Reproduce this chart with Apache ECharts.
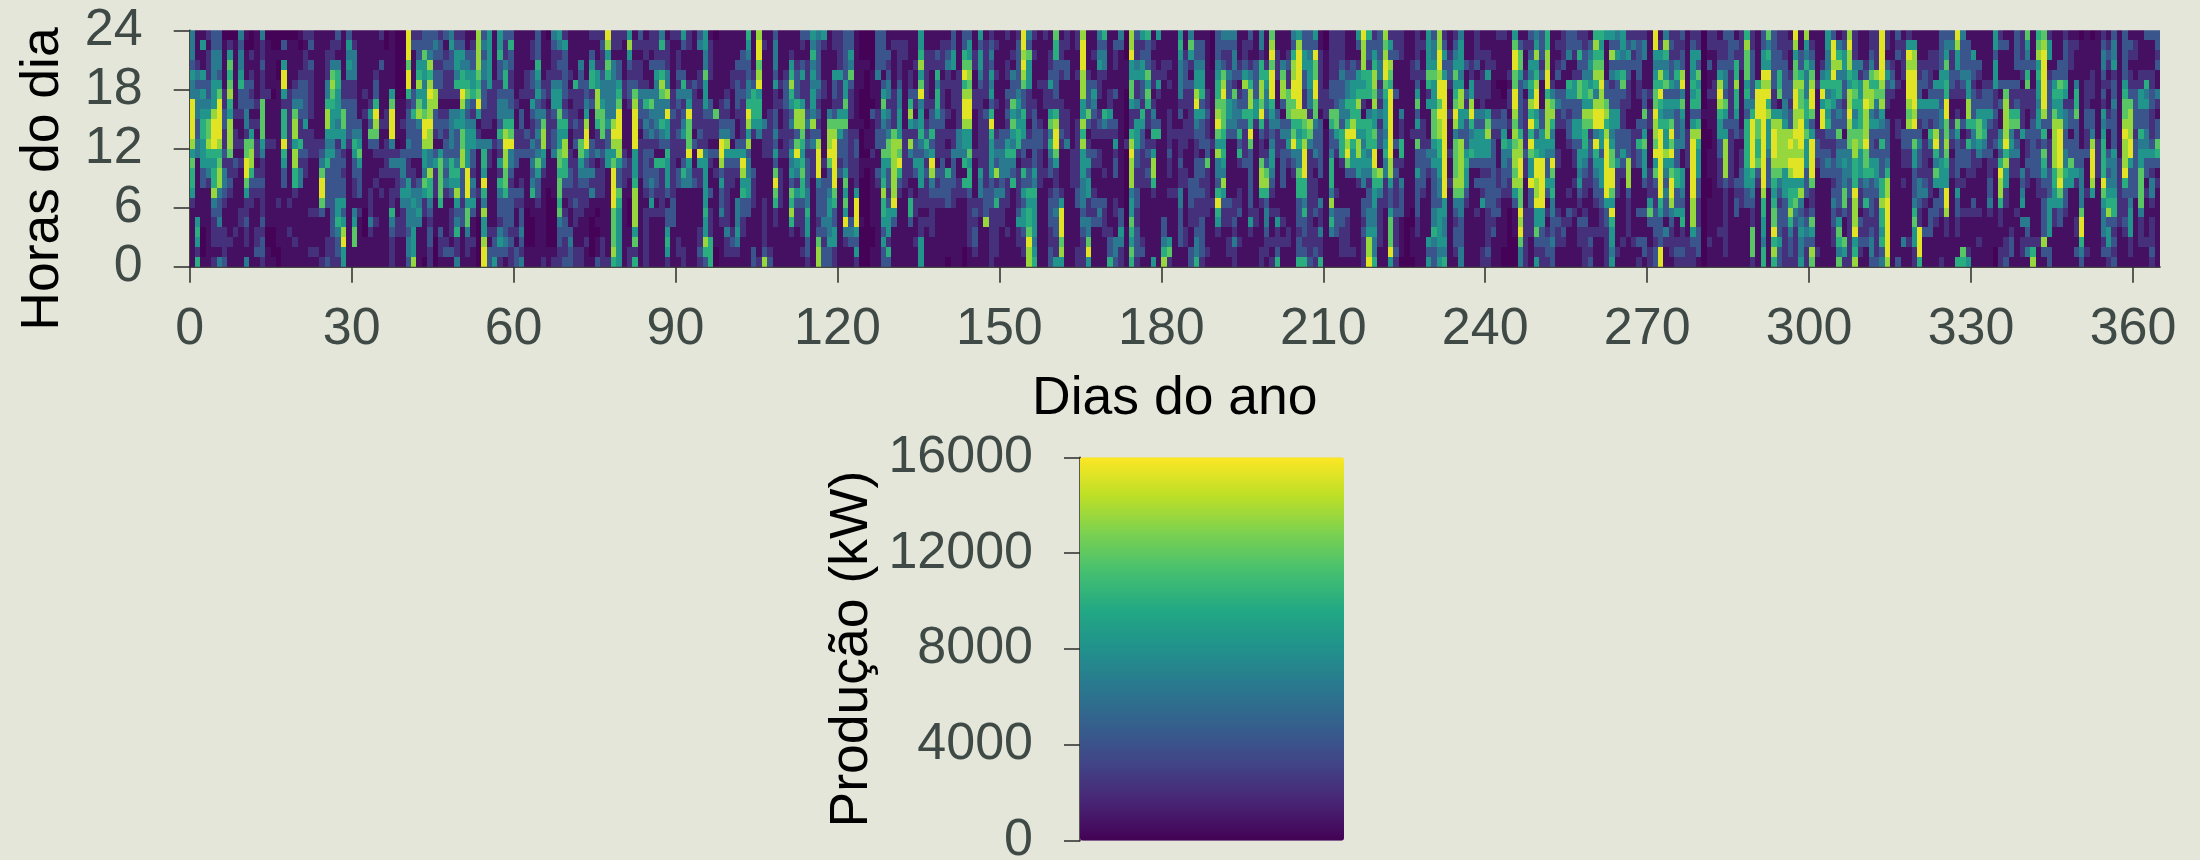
<!DOCTYPE html>
<html>
<head>
<meta charset="utf-8">
<style>html,body{margin:0;padding:0;background:#e4e6da}#c{width:2200px;height:860px}</style>
<script src="https://cdn.jsdelivr.net/npm/echarts@6/dist/echarts.min.js"></script>
</head>
<body>
<div id="c"></div>
<script>
// Values. Each string is one day, read from hour 23 (top) to hour 0 (bottom),
// as a colour level 0-9; levelValues gives the kW each level stands for.
const levelValues = [100, 700, 2200, 4200, 6500, 8200, 10000, 11800, 13500, 15300];
const xTicks = [0,30,60,90,120,150,180,210,240,270,300,330,360];
const yTicks = [0,6,12,18,24];
const barTicks = [0,4000,8000,12000,16000];
const viridis = ['#440154','#482475','#414487','#355f8d','#2a788e','#21918c','#22a884','#44bf70','#7ad151','#bddf26','#fde725'];

const days000 = ["444354499998576652111111","111243444334411111156526","151153545665553311110001","212223345778654211111111","334445558999656684322212","334435799998678843342214","011111223322324432112223","025767865888722321111211","011111112122132111112111","434456332112121111221111","101113334427799752232214","002123231257886322111111","111111121212212321112231","422322277775422322232332","011111211112111111110011","001111011112111111110001","001001111111111112111100","031599526669653311111111","011111222222111112112111","011112347885886621111211","101123343226324411111111","212223333522322111111111","231322222122211111211121","111111111112211111211121","111111111112347997311112","112224468854563333111223","122478765554533333333222","321466555452333335564332","111112237755232335358955","354542233332111111111111","124442233346533221457711","111111111345753331211111","111111212111111111000111","111111125373111122242111","111123369873211211121111","211311111211212121111111"];
const days036 = ["001111112212222111111111","111111579994242122643222","000000011110242221122111","000000011211344354222111","999799623334322554443443","231111336333312245445558","233568578433311344541111","337554557998554752211110","334868988988448664323322","343233883321352221111000","233233212331577776113221","312322212323343421111231","453322214444366531222131","235546214533346585346224","235466985577883332331111","113456743455559995774221","123355632455332435311211","888876795124111121100000","343443332214665964855899","555555222214221111112133","111112222112111111112335","556332344363252643324532","322466344689887763333431","363322334679443233332322","111111121122331132112133","111111213322311232334324","111122211132311111000011","122133253224343461100011","333654534343475332111111","111112324788542111111112","011122212222111100000011","432224553233411110000012","542324557655776776743322","253333323658866321233223","111121212211223322113433","111116222323122223221122","111433221227754322211122"];
const days073 = ["111113345899534322111211","213566231113324241100001","211255887622412221010113","232234457772322221111222","985764444533551111111112","221444444898579999777786","221335679998853376555555","211112211111232211111111","585323321111122110001122","121223789999555688885726","321222433212222111111111","122112463432333321222222","221311474342323435211111","222354444432163321211111","462368744643162222211111","122244849553655531335652","211111223222222223331111","212232432232213311111221","531136423452236411111122","221112459777954411111111","111113222213112311111111","341122122232952211112232","554475553222455555655863","122221133221321131222666","011111117221312111111100","111111122349983533421111","111111232348532222224221","111122111331532211112321","111323332113532114445421","113322322223598563322111","654334469858344553311111","111123666521113222111133","899789566541111111111112","121111111422211112222238","111111112222211111111123","344435223343537976221111","111112121121212222111111"];
const days110 = ["111123332222211111111111","112568653423545376862111","111233368837954253221111","321352258876567663222121","311222223423233344655332","546454554834222111111111","433334323238999433323788","521112211111121333343233","111111114788973345544533","221153323789999976335522","222252225753323111111111","333335575733335757594211","335473222122222111134311","111111111123322259995352","000111000100011000010000","000100000011010000000000","000011103111211111110011","333341112233113211111111","333313575433755686653533","113234424347753323555263","121111222278888889531111","122223445558796321111111","122111111122222211111111","111122368528422126631111","111211321423353112211211","556857945564355522122555","112222221236423222121111","112211123363598432222111","113264665322213232111111","122212223322233332111111","123422112121216333111110","335512221122433322111111","111122222244411221111111","336796899855461621111100","355787899855756632222211","112211221111211112323321","535543222222225442211111"];
const days147 = ["122222213222222233381111","234354536965555333222222","121121121123438246222221","111111111133444342221111","211221323235644222112111","112143375754643611111111","233333454566212222352211","998987336553326353553221","437555222123123365667988","212111123333335465555456","111112111233222211111111","211112221122112111111111","112235225746433123332233","766333326899752233433225","122321122232111125999785","221331112224111111111111","111111111111222211111111","221121111222222233111122","899988855868555444343222","111123337312353552244795","112113543221321123231111","434522212321221113431111","634421116421112113222111","111111225321111111112336","132211311325233112211443","431111111111111111335422","000111000002000000001111","889557752268988845576576","322452242555332233223332","523553326533222211111231","633375762212323211111111","121222124362588621111115","511125211361111111111111","111221111111111111133468","111212112222322121111572","111111111121111121111111","565444423122232244333311"];
const days184 = ["112333221222112211112211","475213222221111333221133","133455895432233332223446","133455635333133232233332","111111223223372222211121","000011111112111112111111","333456678975844369652111","432378977765654853221111","432243355431111113221221","434432744431111112232422","111231234363621122311211","122358336322231111111111","321246886697333333252111","111333355211111111221111","442668879632278862111122","111265443221237863443221","789799965434554321211212","112221113422211111252236","111478831342333311121211","112322777345321111112211","436889978679432111111111","589999998656447663332336","335533228768999664633236","334555442874222222222223","539779977433421222312232","112222221333333114224226","001111222011111111111111","222223327633466648464111","222223337753211121333111","222343344366621111332221","111234464698973111322221","111335566896553111111121","531255686658855211111111","988865621654554413323222","633266614666454233445889","235688785576997655445446","333442324233118642222211"];
const days221 = ["878997655545644222111111","253876999999988533577795","223111311113123222322232","222111114226621433311110","111111111111111111100000","111221111121111111001110","222323573527335333322111","121121111222333321111111","555576251112432111111535","344575557775453333446433","889989979886655443555545","235359999999999995544546","112332112111211211111111","234575679847777874323321","455545885538888874433344","111311325333565532111111","111225589645631111111111","222312214355531311211111","112122224355532325111122","112252215785532333222232","111211112323333333323111","211110112321112232311111","211110013356443321111100","111121221215433221000000","579977998787887853111000","137753333368899877989744","121124122222322111222222","323546586969755933222111","458568995635699889557325","333231113355599999553322","668899688885433531212332","111112478645497564433433","121231342211221111232211","222311333211111111123211","334116532332111121321111","332125533553221211211111","236327733553554532132211"];
const days258 = ["223346658766543221232222","134545758723322211112323","686786489949654332112111","656789889955355533222111","511113378689999995332222","538342335545779975965545","435353335533352221111121","554367322233532111111211","235332221133388832222111","242311111122221111111211","233332211326331111311312","244111337357555311311331","111111212211112225731122","995456779887957322333233","125486965699999996533399","486457354655854343314211","232335354797957998432221","222464353334336633511232","323389475444115543562232","111111111122221111111222","235556563589999998885322","225375663686555332223331","000000001000000000000000","221311211100111001111211","221112211111111111111111","122358986553322211112111","322344375358888322222221","333322222322222211111111","132668665331111323311111","222211111121223322111111","687775643666665533111111","223333346999996543227772","111116999776673211111111","335598999999999986655466","746598968555433311111111","333333225899987656779686","223366715888887432333533"];
const days295 = ["222333344588885553332222","121123323389898566864332","985778998898899567432222","113368778999899584345445","854644466575553331234322","123478997359999722375387","111112111123321111111121","111246959922333111111111","554456465632343111111111","399896553332233234332211","146846634373443333257647","235543323313454477311752","898865889877444332222222","222456764578866698889568","111425566677555322132321","111238898889776436222311","223476884533356333323443","222286743532355432222223","999998785436333668665634","221353221333346889999998","111234211111111111111111","323112111221111111111113","122221111133221211111411","259899987833221111111211","158899998937553334675522","111223353234332443229996","111233153312222342113111","112222353264212221333111","112215353389647513321111","333355334433355533211112","345756699778765599822111","342233211232122111111111","985532212753333253322116","433343211312331211211176","133345588626332111211125","115332333644222113211111","111321235775421111211211"];
const days332 = ["111112335564311111111111","111112335322322334211111","553555223223121111111100","231113131145369886221122","131113788889685522111223","111113226745422111112331","333313236723422111211111","222321222251114345141221","754367221132232211143241","111311222333333111111268","678565545532333221111211","789999998363765323333831","255123333312223335555133","111135657888886655221111","111337655899998975331111","233336524433446533211111","122211123313375511111111","121114667333335211122131","011111111111334444799643","111112223322311121111121","011122213348999851111111","111111111112222111111111","234432325456666975444231","123212112311343456835532","344523343333544456632323","111111111111122222221111","333335677898889632232111","132122378889953334555221","122112333323333331111111","111122553364557777422211","311126453344533121111211","311122332223532442122232","332311421337631211111111"];

const blocks = [days000,days036,days073,days110,days147,days184,days221,days258,days295,days332];
const blockStarts = [0,36,73,110,147,184,221,258,295,332];
const cells = [];
blocks.forEach((block, b) => block.forEach((col, i) => {
  const day = blockStarts[b] + i;
  for (let h = 0; h < 24; h++) cells.push([day, h, levelValues[Number(col[23 - h] ?? 1)]]);
}));

const FONT = '"Liberation Sans", Arial, sans-serif';
const tickColor = '#3f4a46';
const chart = echarts.init(document.getElementById('c'), null, {renderer:'canvas'});
const label = (margin, vals, pad) => ({color:tickColor, fontFamily:FONT, fontSize:52, margin, padding:pad, customValues:vals, formatter:(v) => String(v)});
const tick = (len, vals) => ({show:true, length:len, customValues:vals, lineStyle:{color:'#2b2b2b', width:1.5}});
chart.setOption({
  backgroundColor:'#e4e6da',
  animation:false,
  grid:[
    {left:189.7, top:30.3, width:1970.3, height:236.4, containLabel:false, outerBoundsMode:'none'},
    {left:1080, top:457.3, width:264, height:383.5, containLabel:false, outerBoundsMode:'none'}
  ],
  xAxis:[
    {gridIndex:0, type:'value', min:0, max:365, interval:30,
     axisLine:{show:true, onZero:false, lineStyle:{color:'#111', width:1.5}},
     axisTick:tick(16, xTicks), splitLine:{show:false},
     axisLabel:label(37, xTicks, 0),
     name:'Dias do ano', nameLocation:'middle', nameGap:106, nameMoveOverlap:false,
     nameTextStyle:{color:'#000', fontFamily:FONT, fontSize:53.5}},
    {gridIndex:1, type:'value', min:0, max:1, show:false}
  ],
  yAxis:[
    {gridIndex:0, type:'value', min:0, max:24, interval:6,
     axisLine:{show:true, onZero:false, lineStyle:{color:'#111', width:1.5}},
     axisTick:tick(16, yTicks), splitLine:{show:false},
     axisLabel:label(47, yTicks, [3,0,0,0])},
    {gridIndex:1, type:'value', min:0, max:16000, interval:4000,
     axisLine:{show:true, onZero:false, lineStyle:{color:'#2b2b2b', width:1.5}},
     axisTick:tick(16, barTicks), splitLine:{show:false},
     axisLabel:label(47, barTicks, [3,0,0,0]),
     name:'Produção (kW)', nameLocation:'middle', nameGap:201, nameRotate:90, nameMoveOverlap:false,
     nameTextStyle:{color:'#000', fontFamily:FONT, fontSize:53.5}}
  ],
  visualMap:[{
    type:'continuous', seriesIndex:0, dimension:2, min:0, max:16000,
    calculable:false, realtime:false, hoverLink:false, text:null, showLabel:false,
    left:1080, top:457.3, itemWidth:264, itemHeight:383.5, padding:0, borderWidth:0,
    inRange:{color:viridis}, textStyle:{fontSize:0}
  }],
  graphic:[{type:'text', x:43, y:179, rotation:Math.PI/2, silent:true,
    style:{text:'Horas do dia', fill:'#000', font:'53.5px '+FONT, textAlign:'center', textVerticalAlign:'middle'}}],
  series:[
    {type:'custom', xAxisIndex:0, yAxisIndex:0, coordinateSystem:'cartesian2d', data:cells,
     encode:{x:0, y:1}, silent:true, progressive:0, clip:true,
     renderItem:(params, api) => {
       const a = api.coord([api.value(0), api.value(1)]);
       const b = api.coord([api.value(0)+1, api.value(1)+1]);
       const x0 = Math.round(a[0]), x1 = Math.round(b[0]), y0 = Math.round(a[1]), y1 = Math.round(b[1]);
       return {type:'rect', shape:{x:x0, y:y1, width:x1-x0, height:y0-y1}, style:{fill:api.visual('color')}};
     }},
    {type:'scatter', xAxisIndex:1, yAxisIndex:1, data:[], silent:true}
  ]
});
</script>
</body>
</html>
